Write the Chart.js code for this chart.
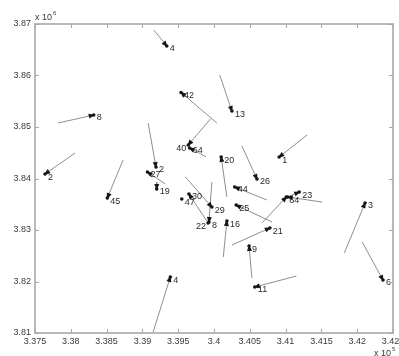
<!DOCTYPE html>
<html>
<head>
<meta charset="utf-8">
<style>
  html, body { margin: 0; padding: 0; background: #fff; }
</style>
</head>
<body>
<canvas id="quiver" width="399" height="356"></canvas>
<script src="https://cdn.jsdelivr.net/npm/chart.js@4.4.1/dist/chart.umd.min.js"></script>
<script>
/* ── data (x in units, y in units) ── */
const labels = ['4', '42', '13', '8', '40', '64', '20', '1', '26', '2', '27', '19', '2', '45', '29', '30',
                '8', '22', '47', '16', '44', '25', '21', '64', '', '23', '3', '6', '9', '11', '4'];
const tailX = [339160, 340040, 340080, 337820, 339950, 339890, 340180, 341300, 340390, 339080, 339320, 339200, 338060, 338730, 339600, 339900,
               339970, 339917, 339550, 340130, 340740, 340810, 340250, 340670, 341510, 341060, 341820, 342070, 340530, 341150, 339150];
const tailY = [3868830, 3850770, 3860100, 3850770, 3851550, 3844200, 3836400, 3848440, 3846310, 3850770, 3838930, 3839320, 3844950, 3843590, 3840290, 3831740,
               3839320, 3831350, 3836010, 3824750, 3835820, 3831550, 3827080, 3831350, 3835430, 3836600, 3825530, 3827660, 3820670, 3821060, 3810190];
const headX = [339340, 339540, 340250, 338320, 339640, 339660, 340100, 340910, 340600, 339190, 339070, 339200, 337640, 338510, 339970, 339650,
               339930, 339917, 339550, 340180, 340290, 340310, 340780, 341010, 341030, 341190, 342110, 342360, 340490, 340570, 339390];
const headY = [3865730, 3856700, 3853100, 3852330, 3846500, 3845920, 3844170, 3844170, 3839900, 3842230, 3841260, 3837960, 3840870, 3836210, 3834460, 3836990,
               3831550, 3831350, 3836010, 3831740, 3838350, 3834850, 3830380, 3836400, 3836400, 3837370, 3835240, 3820290, 3826890, 3818930, 3820870];

const xTicks = [3.375, 3.38, 3.385, 3.39, 3.395, 3.4, 3.405, 3.41, 3.415, 3.42, 3.425];
const yTicks = [3.81, 3.82, 3.83, 3.84, 3.85, 3.86, 3.87];
const xExp = 5, yExp = 6;

/* labels that sit on the left of their point */
const leftLabels = ['40', '22'];

const AXIS = '#a8a8a8';
const TXT = '#3a3a3a';
const FONT = 'Liberation Sans, Arial, sans-serif';

const datasets = labels.map((lab, i) => ({
  label: lab,
  data: [{ x: tailX[i], y: tailY[i] }, { x: headX[i], y: headY[i] }],
  showLine: true,
  borderColor: '#8e8e8e',
  borderWidth: 1,
  pointRadius: 0,
}));

const quiverDecor = {
  id: 'quiverDecor',
  afterDatasetsDraw(chart) {
    const { ctx, scales: { x, y } } = chart;
    ctx.save();
    labels.forEach((lab, i) => {
      const tx = x.getPixelForValue(tailX[i]), ty = y.getPixelForValue(tailY[i]);
      const hx = x.getPixelForValue(headX[i]), hy = y.getPixelForValue(headY[i]);
      ctx.fillStyle = '#151515';
      const dx = hx - tx, dy = hy - ty, len = Math.hypot(dx, dy);
      if (len > 0.5) {
        const ux = dx / len, uy = dy / len;
        ctx.beginPath();
        ctx.moveTo(hx + ux * 1.5, hy + uy * 1.5);
        ctx.lineTo(hx - ux * 5 - uy * 2.5, hy - uy * 5 + ux * 2.5);
        ctx.lineTo(hx - ux * 5 + uy * 2.5, hy - uy * 5 - ux * 2.5);
        ctx.closePath();
        ctx.fill();
      }
      ctx.beginPath();
      ctx.arc(hx, hy, 1.8, 0, Math.PI * 2);
      ctx.fill();

      if (!lab) return;
      ctx.font = '9px ' + FONT;
      ctx.fillStyle = '#2a2a2a';
      ctx.textBaseline = 'middle';
      if (leftLabels.includes(lab)) {
        ctx.textAlign = 'right';
        ctx.fillText(lab, hx - 2, hy + 3);
      } else {
        ctx.textAlign = 'left';
        ctx.fillText(lab, hx + 3, hy + 3);
      }
    });
    ctx.restore();
  },
  afterDraw(chart) {
    const { ctx, chartArea: a, scales: { x, y } } = chart;
    ctx.save();
    // box + inward ticks on all sides
    ctx.strokeStyle = AXIS;
    ctx.lineWidth = 1.6;
    ctx.strokeRect(a.left, a.top, a.right - a.left, a.bottom - a.top);
    ctx.lineWidth = 1;
    ctx.beginPath();
    x.ticks.forEach(t => {
      const px = Math.round(x.getPixelForValue(t.value)) + 0.5;
      ctx.moveTo(px, a.bottom); ctx.lineTo(px, a.bottom - 4);
      ctx.moveTo(px, a.top); ctx.lineTo(px, a.top + 4);
    });
    y.ticks.forEach(t => {
      const py = Math.round(y.getPixelForValue(t.value)) + 0.5;
      ctx.moveTo(a.left, py); ctx.lineTo(a.left + 4, py);
      ctx.moveTo(a.right, py); ctx.lineTo(a.right - 4, py);
    });
    ctx.stroke();

    // exponent notes
    ctx.fillStyle = TXT;
    ctx.textAlign = 'left';
    ctx.textBaseline = 'alphabetic';
    ctx.font = '9px ' + FONT;
    ctx.fillText('x 10', a.left, a.top - 4);
    const w1 = ctx.measureText('x 10').width;
    ctx.font = '6px ' + FONT;
    ctx.fillText(String(yExp), a.left + w1 + 1, a.top - 9);
    ctx.font = '9px ' + FONT;
    ctx.fillText('x 10', a.right - 19, a.bottom + 23);
    const w2 = ctx.measureText('x 10').width;
    ctx.font = '6px ' + FONT;
    ctx.fillText(String(xExp), a.right - 19 + w2 + 1, a.bottom + 18);
    ctx.restore();
  }
};

new Chart(document.getElementById('quiver'), {
  type: 'scatter',
  data: { datasets },
  options: {
    responsive: false,
    animation: false,
    layout: { padding: { top: 24, right: 6, left: 0, bottom: 0 } },
    plugins: { legend: { display: false }, tooltip: { enabled: false } },
    scales: {
      x: {
        type: 'linear',
        min: xTicks[0] * 10 ** xExp,
        max: xTicks[xTicks.length - 1] * 10 ** xExp,
        afterBuildTicks: s => { s.ticks = xTicks.map(v => ({ value: v * 10 ** xExp })); },
        afterFit: s => { s.height = 23; s.paddingLeft = 0; s.paddingRight = 0; },
        grid: { display: false, drawTicks: false },
        border: { display: false },
        ticks: {
          autoSkip: false, maxRotation: 0, padding: 3, color: TXT,
          font: { family: FONT, size: 9 },
          callback: v => String(+(v / 10 ** xExp).toFixed(3))
        }
      },
      y: {
        type: 'linear',
        min: yTicks[0] * 10 ** yExp,
        max: yTicks[yTicks.length - 1] * 10 ** yExp,
        afterBuildTicks: s => { s.ticks = yTicks.map(v => ({ value: v * 10 ** yExp })); },
        afterFit: s => { s.width = 35; s.paddingTop = 0; s.paddingBottom = 0; },
        grid: { display: false, drawTicks: false },
        border: { display: false },
        ticks: {
          autoSkip: false, padding: 4, color: TXT,
          font: { family: FONT, size: 9 },
          callback: v => String(+(v / 10 ** yExp).toFixed(2))
        }
      }
    }
  },
  plugins: [quiverDecor]
});
</script>
</body>
</html>
